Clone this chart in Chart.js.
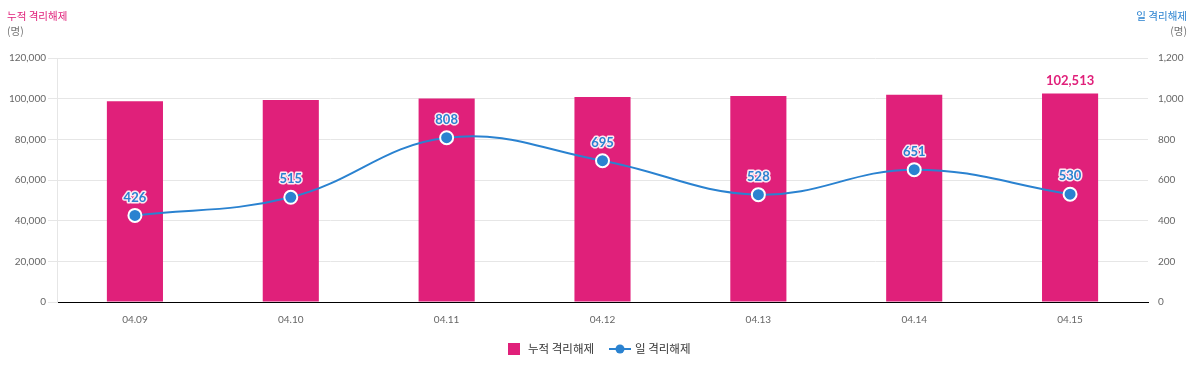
<!DOCTYPE html>
<html>
<head>
<meta charset="utf-8">
<script src="https://cdn.jsdelivr.net/npm/chart.js@4/dist/chart.umd.min.js"></script>
<style>
html,body{margin:0;padding:0;background:#fff;}
#wrap{width:1199px;height:366px;position:relative;}
</style>
</head>
<body>
<div id="wrap"><canvas id="c" width="1199" height="366"></canvas></div>
<script>
const categories = ['04.09','04.10','04.11','04.12','04.13','04.14','04.15'];
const cumulativeReleased = [98786, 99301, 100109, 100804, 101332, 101983, 102513];
const dailyReleased = [426, 515, 808, 695, 528, 651, 530];
const leftAxisTitle = '누적 격리해제';
const rightAxisTitle = '일 격리해제';
const unitLabel = '(명)';
const seriesNames = ['누적 격리해제', '일 격리해제'];

const PINK = '#e0207a';
const BLUE = '#2a82d0';
const FONT = "Lato, 'Noto Sans CJK KR', sans-serif";
const KFONT = "'Noto Sans CJK KR', 'Noto Sans', sans-serif";

const fmt = v => v.toLocaleString('en-US');

const extras = {
  id: 'extras',
  afterDatasetsDraw(chart) {
    const ctx = chart.ctx;
    ctx.save();
    const barMeta = chart.getDatasetMeta(0);
    const last = barMeta.data.length - 1;
    const bEl = barMeta.data[last];
    ctx.font = 'bold 13px ' + FONT;
    ctx.textAlign = 'center';
    ctx.textBaseline = 'middle';
    ctx.fillStyle = PINK;
    ctx.fillText(fmt(cumulativeReleased[last]), bEl.x, bEl.y - 13);
    const lineMeta = chart.getDatasetMeta(1);
    lineMeta.data.forEach((el, i) => {
      const t = fmt(dailyReleased[i]);
      ctx.font = 'bold 13px ' + FONT;
      ctx.lineWidth = 3;
      ctx.strokeStyle = 'rgba(255,255,255,0.9)';
      ctx.lineJoin = 'round';
      ctx.strokeText(t, el.x, el.y - 18);
      ctx.fillStyle = BLUE;
      ctx.fillText(t, el.x, el.y - 18);
    });
    ctx.restore();
  },
  afterDraw(chart) {
    const ctx = chart.ctx;
    ctx.save();
    ctx.textBaseline = 'middle';
    ctx.font = '10.5px ' + KFONT;
    ctx.textAlign = 'left';
    ctx.fillStyle = PINK;
    ctx.fillText(leftAxisTitle, 7, 16);
    ctx.fillStyle = '#777';
    ctx.fillText(unitLabel, 7, 31);
    ctx.textAlign = 'right';
    ctx.fillStyle = BLUE;
    ctx.fillText(rightAxisTitle, 1187, 16);
    ctx.fillStyle = '#777';
    ctx.fillText(unitLabel, 1187, 31);
    const ly = 349;
    ctx.fillStyle = PINK;
    ctx.fillRect(508, ly - 6, 12, 12);
    ctx.font = '11.5px ' + KFONT;
    ctx.textAlign = 'left';
    ctx.fillStyle = '#333';
    ctx.fillText(seriesNames[0], 528, ly);
    ctx.strokeStyle = BLUE;
    ctx.lineWidth = 2;
    ctx.beginPath();
    ctx.moveTo(609, ly);
    ctx.lineTo(631, ly);
    ctx.stroke();
    ctx.fillStyle = BLUE;
    ctx.beginPath();
    ctx.arc(620, ly, 4.5, 0, Math.PI * 2);
    ctx.fill();
    ctx.fillStyle = '#333';
    ctx.fillText(seriesNames[1], 635, ly);
    ctx.restore();
  }
};

new Chart(document.getElementById('c'), {
  data: {
    labels: categories,
    datasets: [
      {
        type: 'bar',
        label: seriesNames[0],
        data: cumulativeReleased,
        backgroundColor: PINK,
        yAxisID: 'y',
        barPercentage: 0.45,
        categoryPercentage: 0.8,
        order: 2
      },
      {
        type: 'line',
        label: seriesNames[1],
        data: dailyReleased,
        borderColor: BLUE,
        borderWidth: 2,
        backgroundColor: BLUE,
        pointBackgroundColor: BLUE,
        pointBorderColor: '#fff',
        pointBorderWidth: 2,
        pointRadius: 6.5,
        tension: 0.4,
        yAxisID: 'y1',
        order: 1
      }
    ]
  },
  options: {
    responsive: false,
    animation: false,
    devicePixelRatio: 1,
    layout: { padding: { top: 58, bottom: 34, left: 0, right: 0 } },
    plugins: { legend: { display: false }, tooltip: { enabled: false } },
    scales: {
      x: {
        grid: { display: false, drawTicks: false },
        border: { display: true, color: '#000', width: 1 },
        ticks: { font: { family: FONT, size: 10 }, color: '#666', padding: 12 },
        afterFit(s) { s.height = 30; }
      },
      y: {
        position: 'left',
        min: 0, max: 120000,
        ticks: { stepSize: 20000, font: { family: FONT, size: 10 }, color: '#666', padding: 2, callback: v => fmt(v) },
        grid: { color: '#e6e6e6', tickLength: 9 },
        border: { display: true, color: '#e6e6e6' },
        afterFit(s) { s.width = 57; }
      },
      y1: {
        position: 'right',
        min: 0, max: 1200,
        ticks: { stepSize: 200, font: { family: FONT, size: 10 }, color: '#666', padding: 10, callback: v => fmt(v) },
        grid: { drawOnChartArea: false, drawTicks: false },
        border: { display: false },
        afterFit(s) { s.width = 51; }
      }
    }
  },
  plugins: [extras]
});
</script>
</body>
</html>
